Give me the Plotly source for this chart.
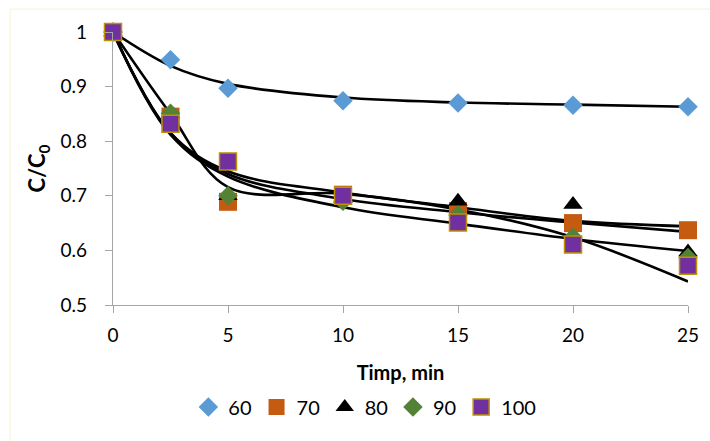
import plotly.graph_objects as go

# Sampling times (min)
t = [0, 2.5, 5, 10, 15, 20, 25]

# Measured C/C0 for each temperature series
s60 = [1.0, 0.949, 0.897, 0.874, 0.870, 0.866, 0.863]
s70 = [1.0, 0.845, 0.689, 0.702, 0.672, 0.650, 0.637]
s80 = [1.0, 0.850, 0.700, 0.695, 0.690, 0.684, 0.597]
s90 = [1.0, 0.851, 0.700, 0.690, 0.665, 0.624, 0.587]
s100 = [1.0, 0.832, 0.763, 0.700, 0.651, 0.611, 0.572]

# Model curves (smoothed lines through the model values at the same times)
fit60 = [1.0, 0.938, 0.905, 0.880, 0.871, 0.867, 0.863]
fit70 = [1.0, 0.815, 0.745, 0.706, 0.679, 0.654, 0.644]
fit80 = [1.0, 0.815, 0.740, 0.694, 0.670, 0.651, 0.634]
fit90 = [1.0, 0.850, 0.716, 0.704, 0.675, 0.624, 0.543]
fit100 = [1.0, 0.812, 0.735, 0.679, 0.649, 0.621, 0.599]

labels = ["60", "70", "80", "90", "100"]
x_ticks = [0, 5, 10, 15, 20, 25]
y_ticks = [0.5, 0.6, 0.7, 0.8, 0.9, 1.0]
y_tick_text = ["0.5", "0.6", "0.7", "0.8", "0.9", "1"]

FONT = "Lato, 'Open Sans', sans-serif"
AXIS_GREY = "#A6A6A6"

fig = go.Figure()

for curve in [fit60, fit70, fit80, fit90, fit100]:
    fig.add_trace(go.Scatter(
        x=t, y=curve, mode="lines", showlegend=False, hoverinfo="skip",
        line=dict(color="black", width=2.6, shape="spline", smoothing=1.0),
        cliponaxis=False,
    ))

marker_styles = [
    dict(symbol="diamond", size=15, color="#5B9BD5", line=dict(width=0)),
    dict(symbol="square", size=18, color="#C55A11", line=dict(width=0)),
    dict(symbol="triangle-up", size=17, color="#000000", line=dict(width=0)),
    dict(symbol="diamond", size=15, color="#548235", line=dict(width=0)),
    dict(symbol="square", size=17, color="#7030A0", line=dict(width=1.5, color="#BF9000")),
]

for name, series, style in zip(labels, [s60, s70, s80, s90, s100], marker_styles):
    fig.add_trace(go.Scatter(
        x=t, y=series, mode="markers", name=name,
        marker=style, cliponaxis=False,
    ))

fig.update_layout(
    width=710, height=441,
    margin=dict(l=113, r=22, t=32, b=136),
    paper_bgcolor="white", plot_bgcolor="white",
    font=dict(family=FONT, size=19, color="black"),
    legend=dict(
        orientation="h", x=0.438, xanchor="center", y=-0.374, yanchor="middle",
        font=dict(size=20), bgcolor="rgba(0,0,0,0)", itemwidth=30,
    ),
    shapes=[dict(
        type="rect", xref="paper", yref="paper",
        x0=-0.179, x1=1.2, y0=-0.7, y1=1.084,
        line=dict(color="#FAF0D2", width=1), layer="below",
    )],
)

fig.update_xaxes(
    range=[0, 25], tickvals=x_ticks, ticktext=[str(v) for v in x_ticks],
    showline=True, linecolor=AXIS_GREY, linewidth=1.3,
    ticks="outside", ticklen=7, tickcolor=AXIS_GREY, tickwidth=1.3,
    showgrid=False, zeroline=False, ticklabelstandoff=6,
    title=dict(text="<b>Timp, min</b>", font=dict(size=20), standoff=21),
)
fig.update_yaxes(
    range=[0.5, 1.0], tickvals=y_ticks, ticktext=y_tick_text,
    showline=True, linecolor=AXIS_GREY, linewidth=1.3,
    ticks="outside", ticklen=7, tickcolor=AXIS_GREY, tickwidth=1.3,
    showgrid=False, zeroline=False, ticklabelstandoff=14,
    title=dict(text="<b>C/C<sub>0</sub></b>", font=dict(size=22), standoff=8),
)

fig.write_html("out.html")
